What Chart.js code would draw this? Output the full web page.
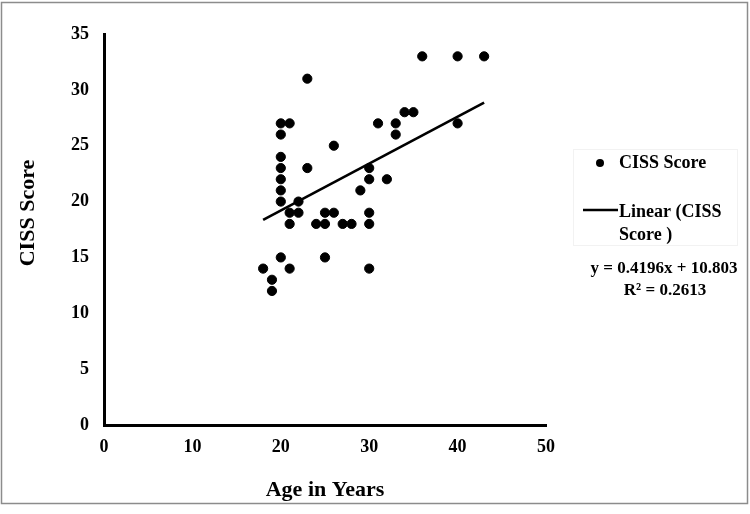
<!DOCTYPE html>
<html>
<head>
<meta charset="utf-8">
<script src="https://cdn.jsdelivr.net/npm/chart.js@4.4.0/dist/chart.umd.min.js"></script>
<style>
body { margin: 0; background: #fff; }
#wrap { width: 750px; height: 514px; }
</style>
</head>
<body>
<div id="wrap"><canvas id="myChart" width="750" height="514"></canvas></div>
<script>
// age / CISS score pairs
var ages   = [18, 19, 19, 20, 20, 20, 20, 20, 20, 20, 20, 21, 21, 21, 21, 22, 22, 23, 23, 24, 25, 25,
              25, 26, 26, 27, 28, 29, 30, 30, 30, 30, 30, 31, 32, 33, 33, 34, 35, 36, 40, 40, 43];
var scores = [14, 13, 12, 27, 26, 24, 23, 22, 21, 20, 15, 27, 19, 18, 14, 20, 19, 31, 23, 18, 19, 18,
              15, 25, 19, 18, 18, 21, 23, 22, 19, 18, 14, 27, 22, 27, 26, 28, 28, 33, 33, 27, 33];

// trend line ends as drawn
var trendAges = [18, 43];
var trendScores = [18.36, 28.85];

var seriesLabels = ['CISS Score', 'Linear (CISS Score )'];
var equationText = ['y = 0.4196x + 10.803', 'R\u00B2 = 0.2613'];
var xTitle = 'Age in Years';
var yTitle = 'CISS Score';

var serif = '"Liberation Serif", "Times New Roman", serif';

function toPoints(xs, ys) {
    var pts = [];
    for (var i = 0; i < xs.length; i++) {
        pts.push({x: xs[i], y: ys[i]});
    }
    return pts;
}

// frame, legend, equation and y title
var extras = {
    id: 'extras',
    afterDraw: function(chart) {
        var ctx = chart.ctx;
        ctx.save();

        ctx.strokeStyle = '#8c8c8c';
        ctx.lineWidth = 1.5;
        ctx.strokeRect(1.5, 2.5, 746, 501);

        // faint legend box
        ctx.strokeStyle = '#f2f2f2';
        ctx.lineWidth = 1;
        ctx.strokeRect(573.5, 149.5, 164, 96);

        ctx.fillStyle = '#000';
        ctx.textBaseline = 'middle';
        ctx.textAlign = 'left';
        ctx.font = 'bold 18px ' + serif;

        ctx.beginPath();
        ctx.arc(600, 163, 4, 0, Math.PI * 2);
        ctx.fill();
        ctx.fillText(chart.data.datasets[0].label, 619, 163);

        ctx.strokeStyle = '#000';
        ctx.lineWidth = 2.5;
        ctx.beginPath();
        ctx.moveTo(583, 210);
        ctx.lineTo(618, 210);
        ctx.stroke();
        ctx.fillText('Linear (CISS', 619, 212);
        ctx.fillText('Score )', 619, 235);

        ctx.textAlign = 'center';
        ctx.font = 'bold 17px ' + serif;
        ctx.fillText(equationText[0], 664, 269);
        ctx.fillText(equationText[1], 665, 291);

        ctx.font = 'bold 22px ' + serif;
        ctx.translate(28, 213);
        ctx.rotate(-Math.PI / 2);
        ctx.fillText(yTitle, 0, 0);

        ctx.restore();
    }
};

var config = {
    type: 'scatter',
    data: {
        datasets: [{
            label: seriesLabels[0],
            data: toPoints(ages, scores),
            backgroundColor: '#000',
            borderColor: '#000',
            pointRadius: 4.6,
            pointHoverRadius: 4.6
        }, {
            label: seriesLabels[1],
            type: 'line',
            data: toPoints(trendAges, trendScores),
            borderColor: '#000',
            borderWidth: 2.6,
            pointRadius: 0,
            fill: false
        }]
    },
    options: {
        responsive: false,
        animation: false,
        layout: {
            padding: {top: 34, right: 204, left: 0, bottom: 0}
        },
        plugins: {
            legend: {display: false},
            tooltip: {enabled: false}
        },
        scales: {
            x: {
                type: 'linear',
                min: 0,
                max: 50,
                ticks: {
                    stepSize: 10,
                    color: '#000',
                    padding: 12,
                    font: {family: serif, size: 18, weight: 'bold'}
                },
                grid: {display: false, drawTicks: false},
                border: {display: true, color: '#000', width: 3},
                title: {
                    display: true,
                    text: xTitle,
                    color: '#000',
                    padding: {top: 0, bottom: 10},
                    font: {family: serif, size: 22, weight: 'bold'}
                },
                afterFit: function(scale) { scale.height = 89; }
            },
            y: {
                type: 'linear',
                min: 0,
                max: 35,
                ticks: {
                    stepSize: 5,
                    color: '#000',
                    padding: 15,
                    font: {family: serif, size: 18, weight: 'bold'}
                },
                grid: {display: false, drawTicks: false},
                border: {display: true, color: '#000', width: 3},
                afterFit: function(scale) { scale.width = 104; }
            }
        }
    },
    plugins: [extras]
};

var ctx = document.getElementById('myChart').getContext('2d');
var scatterChart = new Chart(ctx, config);
</script>
</body>
</html>
